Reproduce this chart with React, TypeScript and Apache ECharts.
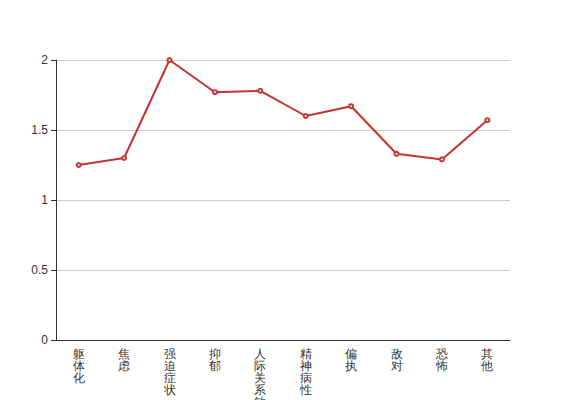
import React, { useEffect, useRef } from "react";
import * as echarts from "echarts";

const categories = ["躯体化", "焦虑", "强迫症状", "抑郁", "人际关系敏感", "精神病性", "偏执", "敌对", "恐怖", "其他"];
const values = [1.25, 1.3, 2.0, 1.77, 1.78, 1.6, 1.67, 1.33, 1.29, 1.57];

export default function App() {
  const ref = useRef<HTMLDivElement>(null);
  useEffect(() => {
    document.body.style.margin = "0";
    const chart = echarts.init(ref.current!, null, { renderer: "svg" });
    chart.setOption({
      animation: false,
      grid: { left: 56, right: 57, top: 60, bottom: 60, containLabel: false, outerBoundsMode: "none" },
      xAxis: {
        type: "category",
        data: categories,
        axisLine: { lineStyle: { color: "#333" } },
        axisTick: { lineStyle: { color: "#333" } },
        axisLabel: {
          color: "#333",
          fontSize: 12,
          lineHeight: 12,
          interval: 0,
          formatter: (v: string) => v.split("").join("\n"),
        },
      },
      yAxis: {
        type: "value",
        min: 0,
        max: 2,
        interval: 0.5,
        axisLine: { show: true, lineStyle: { color: "#333" } },
        axisTick: { show: true, lineStyle: { color: "#333" } },
        axisLabel: { color: "#333", fontSize: 12 },
        splitLine: { lineStyle: { color: "#ccc" } },
      },
      series: [
        {
          type: "line",
          data: values,
          symbol: "emptyCircle",
          symbolSize: 4,
          lineStyle: { color: "#c23531", width: 2 },
          itemStyle: { color: "#c23531" },
        },
      ],
    });
    return () => chart.dispose();
  }, []);
  return <div ref={ref} style={{ width: 567, height: 400 }} />;
}
